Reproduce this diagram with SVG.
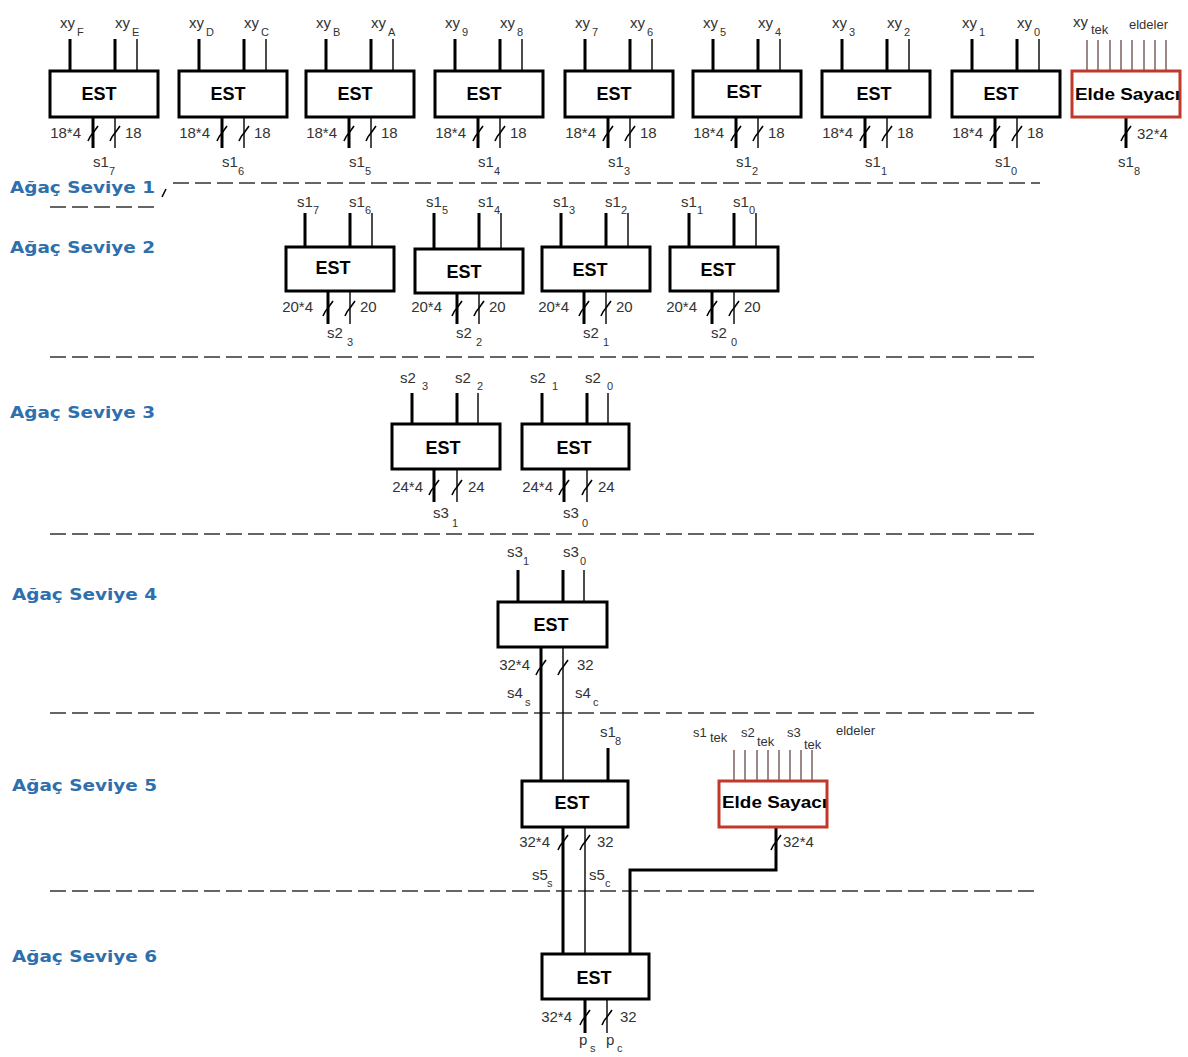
<svg xmlns="http://www.w3.org/2000/svg" width="1188" height="1057" viewBox="0 0 1188 1057">
<style>
.bx{fill:#fff;stroke:#000;stroke-width:3}
.rd{fill:#fff;stroke:#c0392b;stroke-width:3}
.tk{stroke:#000;stroke-width:3;fill:none}
.tn{stroke:#000;stroke-width:1.4;fill:none}
.rl{stroke:#5a3a3a;stroke-width:1.2}
.ds{stroke:#333;stroke-width:1.5;stroke-dasharray:16 6;fill:none}
.sl{stroke:#000;stroke-width:1.6;fill:none}
.est{font-family:"Liberation Sans",Arial,sans-serif;font-weight:bold;font-size:18px;text-anchor:middle;fill:#000}
.es{font-family:"Liberation Sans",Arial,sans-serif;font-weight:bold;font-size:17px;fill:#000}
.l{font-family:"Liberation Sans",Arial,sans-serif;font-size:15px;fill:#333}
.s{font-family:"Liberation Sans",Arial,sans-serif;font-size:11px;fill:#333}
.m{font-family:"Liberation Sans",Arial,sans-serif;font-size:13px;fill:#333}
.e{text-anchor:end}
.lv{font-family:"DejaVu Sans",Verdana,sans-serif;font-weight:bold;font-size:16px;fill:#2e6fad}
</style>
<defs>
<path id="sl" class="sl" d="M-5,8 Q-3,3 0,0 L5,-7"/>
</defs>
<rect width="1188" height="1057" fill="#fff"/>

<g id="levels">
<text class="lv" x="10" y="193" textLength="145" lengthAdjust="spacingAndGlyphs">Ağaç Seviye 1</text>
<text class="lv" x="10" y="253" textLength="145" lengthAdjust="spacingAndGlyphs">Ağaç Seviye 2</text>
<text class="lv" x="10" y="418" textLength="145" lengthAdjust="spacingAndGlyphs">Ağaç Seviye 3</text>
<text class="lv" x="12" y="600" textLength="145" lengthAdjust="spacingAndGlyphs">Ağaç Seviye 4</text>
<text class="lv" x="12" y="791" textLength="145" lengthAdjust="spacingAndGlyphs">Ağaç Seviye 5</text>
<text class="lv" x="12" y="962" textLength="145" lengthAdjust="spacingAndGlyphs">Ağaç Seviye 6</text>
<path class="ds" d="M173 183H1040M50 207H155M50 357H1040M50 534H1040M50 713H1040M50 891H1040"/>
<path class="sl" d="M162 197L166 189"/>
</g>

<g id="connectors">
<path class="tk" d="M70 39V71M115 39V71M93 117V148M199 39V71M244 39V71M222 117V148M326 39V71M371 39V71M349 117V148M455 39V71M500 39V71M478 117V148M585 39V71M630 39V71M608 117V148M713 39V71M758 39V71M736 117V148M842 39V71M887 39V71M865 117V148M972 39V71M1017 39V71M995 117V148M1126 117V148"/>
<path class="tn" d="M137 39V71M115 117V148M266 39V71M244 117V148M393 39V71M371 117V148M522 39V71M500 117V148M652 39V71M630 117V148M780 39V71M758 117V148M909 39V71M887 117V148M1039 39V71M1017 117V148"/>
<path class="rl" d="M1087 40V71M1098 40V71M1110 40V71M1121 40V71M1132 40V71M1144 40V71M1155 40V71M1166 40V71"/>
<path class="tk" d="M305 213V247M350 213V247M328 291V324M434 213V249M479 213V249M457 293V324M561 213V247M606 213V247M584 291V324M689 213V247M734 213V247M712 291V324"/>
<path class="tn" d="M372 213V247M350 291V324M501 213V249M479 293V324M628 213V247M606 291V324M756 213V247M734 291V324"/>
<path class="tk" d="M412 393V424M457 393V424M434 469V502M542 393V424M587 393V424M564 469V502"/>
<path class="tn" d="M478 393V424M457 469V502M608 393V424M587 469V502"/>
<path class="tk" d="M518 570V602M563 570V602M541 647V781"/>
<path class="tn" d="M584 570V602M563 647V781"/>
<path class="tk" d="M608 748V781M563 827V954M776 827V870H630V954"/>
<path class="tn" d="M585 827V954"/>
<path class="rl" d="M734 750V781M745 750V781M757 750V781M768 750V781M779 750V781M790 750V781M801 750V781M812 750V781"/>
<path class="tk" d="M585 999V1033"/>
<path class="tn" d="M607 999V1033"/>
<use href="#sl" x="93" y="133"/><use href="#sl" x="115" y="133"/>
<use href="#sl" x="222" y="133"/><use href="#sl" x="244" y="133"/>
<use href="#sl" x="349" y="133"/><use href="#sl" x="371" y="133"/>
<use href="#sl" x="478" y="133"/><use href="#sl" x="500" y="133"/>
<use href="#sl" x="608" y="133"/><use href="#sl" x="630" y="133"/>
<use href="#sl" x="736" y="133"/><use href="#sl" x="758" y="133"/>
<use href="#sl" x="865" y="133"/><use href="#sl" x="887" y="133"/>
<use href="#sl" x="995" y="133"/><use href="#sl" x="1017" y="133"/>
<use href="#sl" x="1126" y="133"/>
<use href="#sl" x="328" y="308"/><use href="#sl" x="350" y="308"/>
<use href="#sl" x="457" y="308"/><use href="#sl" x="479" y="308"/>
<use href="#sl" x="584" y="308"/><use href="#sl" x="606" y="308"/>
<use href="#sl" x="712" y="308"/><use href="#sl" x="734" y="308"/>
<use href="#sl" x="434" y="487"/><use href="#sl" x="457" y="487"/>
<use href="#sl" x="564" y="487"/><use href="#sl" x="587" y="487"/>
<use href="#sl" x="541" y="667"/><use href="#sl" x="563" y="667"/>
<use href="#sl" x="563" y="842"/><use href="#sl" x="585" y="842"/>
<use href="#sl" x="776" y="842"/>
<use href="#sl" x="585" y="1017"/><use href="#sl" x="607" y="1017"/>
</g>

<g id="labels">
<text class="l" x="60" y="28">xy</text><text class="s" x="77" y="36">F</text>
<text class="l" x="115" y="28">xy</text><text class="s" x="132" y="36">E</text>
<text class="l" x="189" y="28">xy</text><text class="s" x="206" y="36">D</text>
<text class="l" x="244" y="28">xy</text><text class="s" x="261" y="36">C</text>
<text class="l" x="316" y="28">xy</text><text class="s" x="333" y="36">B</text>
<text class="l" x="371" y="28">xy</text><text class="s" x="388" y="36">A</text>
<text class="l" x="445" y="28">xy</text><text class="s" x="462" y="36">9</text>
<text class="l" x="500" y="28">xy</text><text class="s" x="517" y="36">8</text>
<text class="l" x="575" y="28">xy</text><text class="s" x="592" y="36">7</text>
<text class="l" x="630" y="28">xy</text><text class="s" x="647" y="36">6</text>
<text class="l" x="703" y="28">xy</text><text class="s" x="720" y="36">5</text>
<text class="l" x="758" y="28">xy</text><text class="s" x="775" y="36">4</text>
<text class="l" x="832" y="28">xy</text><text class="s" x="849" y="36">3</text>
<text class="l" x="887" y="28">xy</text><text class="s" x="904" y="36">2</text>
<text class="l" x="962" y="28">xy</text><text class="s" x="979" y="36">1</text>
<text class="l" x="1017" y="28">xy</text><text class="s" x="1034" y="36">0</text>
<text class="l" x="1073" y="27">xy</text><text class="m" x="1091" y="34">tek</text>
<text class="m" x="1129" y="29">eldeler</text>
<text class="l e" x="81" y="138">18*4</text><text class="l" x="125" y="138">18</text>
<text class="l e" x="210" y="138">18*4</text><text class="l" x="254" y="138">18</text>
<text class="l e" x="337" y="138">18*4</text><text class="l" x="381" y="138">18</text>
<text class="l e" x="466" y="138">18*4</text><text class="l" x="510" y="138">18</text>
<text class="l e" x="596" y="138">18*4</text><text class="l" x="640" y="138">18</text>
<text class="l e" x="724" y="138">18*4</text><text class="l" x="768" y="138">18</text>
<text class="l e" x="853" y="138">18*4</text><text class="l" x="897" y="138">18</text>
<text class="l e" x="983" y="138">18*4</text><text class="l" x="1027" y="138">18</text>
<text class="l" x="1137" y="139">32*4</text>
<text class="l" x="93" y="167">s1</text><text class="s" x="109" y="175">7</text>
<text class="l" x="222" y="167">s1</text><text class="s" x="238" y="175">6</text>
<text class="l" x="349" y="167">s1</text><text class="s" x="365" y="175">5</text>
<text class="l" x="478" y="167">s1</text><text class="s" x="494" y="175">4</text>
<text class="l" x="608" y="167">s1</text><text class="s" x="624" y="175">3</text>
<text class="l" x="736" y="167">s1</text><text class="s" x="752" y="175">2</text>
<text class="l" x="865" y="167">s1</text><text class="s" x="881" y="175">1</text>
<text class="l" x="995" y="167">s1</text><text class="s" x="1011" y="175">0</text>
<text class="l" x="1118" y="167">s1</text><text class="s" x="1134" y="175">8</text>
<text class="l" x="297" y="207">s1</text><text class="s" x="313" y="214">7</text>
<text class="l" x="349" y="207">s1</text><text class="s" x="365" y="214">6</text>
<text class="l" x="426" y="207">s1</text><text class="s" x="442" y="214">5</text>
<text class="l" x="478" y="207">s1</text><text class="s" x="494" y="214">4</text>
<text class="l" x="553" y="207">s1</text><text class="s" x="569" y="214">3</text>
<text class="l" x="605" y="207">s1</text><text class="s" x="621" y="214">2</text>
<text class="l" x="681" y="207">s1</text><text class="s" x="697" y="214">1</text>
<text class="l" x="733" y="207">s1</text><text class="s" x="749" y="214">0</text>
<text class="l e" x="313" y="312">20*4</text><text class="l" x="360" y="312">20</text>
<text class="l e" x="442" y="312">20*4</text><text class="l" x="489" y="312">20</text>
<text class="l e" x="569" y="312">20*4</text><text class="l" x="616" y="312">20</text>
<text class="l e" x="697" y="312">20*4</text><text class="l" x="744" y="312">20</text>
<text class="l" x="327" y="338">s2</text><text class="s" x="347" y="346">3</text>
<text class="l" x="456" y="338">s2</text><text class="s" x="476" y="346">2</text>
<text class="l" x="583" y="338">s2</text><text class="s" x="603" y="346">1</text>
<text class="l" x="711" y="338">s2</text><text class="s" x="731" y="346">0</text>
<text class="l" x="400" y="383">s2</text><text class="s" x="422" y="390">3</text>
<text class="l" x="455" y="383">s2</text><text class="s" x="477" y="390">2</text>
<text class="l" x="530" y="383">s2</text><text class="s" x="552" y="390">1</text>
<text class="l" x="585" y="383">s2</text><text class="s" x="607" y="390">0</text>
<text class="l e" x="423" y="492">24*4</text><text class="l" x="468" y="492">24</text>
<text class="l e" x="553" y="492">24*4</text><text class="l" x="598" y="492">24</text>
<text class="l" x="433" y="518">s3</text><text class="s" x="452" y="527">1</text>
<text class="l" x="563" y="518">s3</text><text class="s" x="582" y="527">0</text>
<text class="l" x="507" y="557">s3</text><text class="s" x="523" y="565">1</text>
<text class="l" x="563" y="557">s3</text><text class="s" x="580" y="565">0</text>
<text class="l e" x="530" y="670">32*4</text><text class="l" x="577" y="670">32</text>
<text class="l" x="507" y="698">s4</text><text class="s" x="525" y="706">s</text>
<text class="l" x="575" y="698">s4</text><text class="s" x="593" y="706">c</text>
<text class="l" x="600" y="737">s1</text><text class="s" x="615" y="745">8</text>
<text class="m" x="693" y="737">s1</text><text class="m" x="710" y="742">tek</text>
<text class="m" x="741" y="737">s2</text><text class="m" x="757" y="746">tek</text>
<text class="m" x="787" y="737">s3</text><text class="m" x="804" y="749">tek</text>
<text class="m" x="836" y="735">eldeler</text>
<text class="l e" x="550" y="847">32*4</text><text class="l" x="597" y="847">32</text>
<text class="l" x="783" y="847">32*4</text>
<text class="l" x="532" y="880">s5</text><text class="s" x="547" y="887">s</text>
<text class="l" x="589" y="880">s5</text><text class="s" x="605" y="887">c</text>
<text class="l e" x="572" y="1022">32*4</text><text class="l" x="620" y="1022">32</text>
<text class="l" x="579" y="1045">p</text><text class="s" x="590" y="1052">s</text>
<text class="l" x="606" y="1045">p</text><text class="s" x="617" y="1052">c</text>
</g>

<g id="est1_7"><rect class="bx" x="50" y="71" width="108" height="46"/><text class="est" x="99" y="100">EST</text></g>
<g id="est1_6"><rect class="bx" x="179" y="71" width="108" height="46"/><text class="est" x="228" y="100">EST</text></g>
<g id="est1_5"><rect class="bx" x="306" y="71" width="108" height="46"/><text class="est" x="355" y="100">EST</text></g>
<g id="est1_4"><rect class="bx" x="435" y="71" width="108" height="46"/><text class="est" x="484" y="100">EST</text></g>
<g id="est1_3"><rect class="bx" x="565" y="71" width="108" height="46"/><text class="est" x="614" y="100">EST</text></g>
<g id="est1_2"><rect class="bx" x="693" y="71" width="108" height="46"/><text class="est" x="744" y="98">EST</text></g>
<g id="est1_1"><rect class="bx" x="822" y="71" width="108" height="46"/><text class="est" x="874" y="100">EST</text></g>
<g id="est1_0"><rect class="bx" x="952" y="71" width="108" height="46"/><text class="est" x="1001" y="100">EST</text></g>
<g id="elde1"><rect class="rd" x="1072" y="71" width="108" height="46"/><text class="es" x="1075" y="100" textLength="105" lengthAdjust="spacingAndGlyphs">Elde Sayacı</text></g>

<g id="est2_3"><rect class="bx" x="286" y="247" width="108" height="44"/><text class="est" x="333" y="274">EST</text></g>
<g id="est2_2"><rect class="bx" x="415" y="249" width="108" height="44"/><text class="est" x="464" y="278">EST</text></g>
<g id="est2_1"><rect class="bx" x="542" y="247" width="108" height="44"/><text class="est" x="590" y="276">EST</text></g>
<g id="est2_0"><rect class="bx" x="670" y="247" width="108" height="44"/><text class="est" x="718" y="276">EST</text></g>

<g id="est3_1"><rect class="bx" x="392" y="424" width="108" height="45"/><text class="est" x="443" y="454">EST</text></g>
<g id="est3_0"><rect class="bx" x="522" y="424" width="107" height="45"/><text class="est" x="574" y="454">EST</text></g>

<g id="est4"><rect class="bx" x="498" y="602" width="109" height="45"/><text class="est" x="551" y="631">EST</text></g>

<g id="est5"><rect class="bx" x="522" y="781" width="106" height="46"/><text class="est" x="572" y="809">EST</text></g>
<g id="elde2"><rect class="rd" x="719" y="781" width="108" height="46"/><text class="es" x="722" y="808" textLength="105" lengthAdjust="spacingAndGlyphs">Elde Sayacı</text></g>

<g id="est6"><rect class="bx" x="542" y="954" width="107" height="45"/><text class="est" x="594" y="984">EST</text></g>
</svg>
